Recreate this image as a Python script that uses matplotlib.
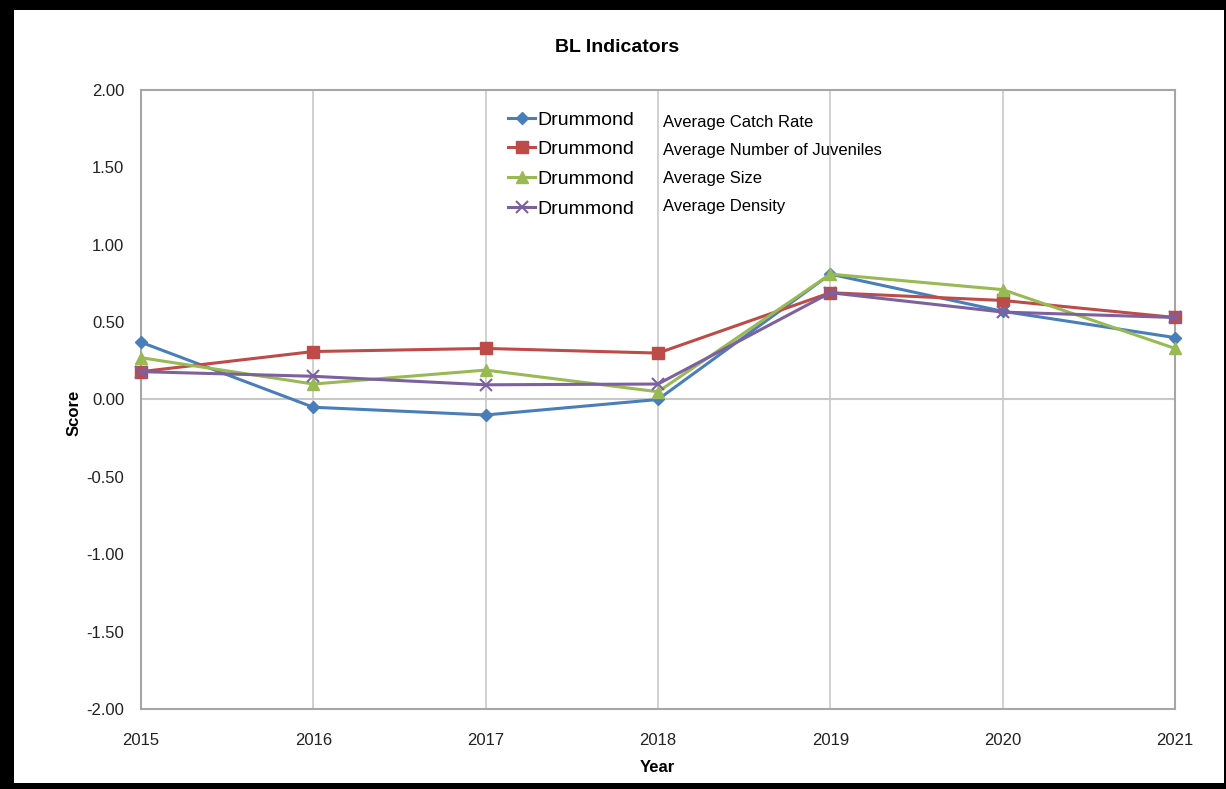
import matplotlib
matplotlib.use("Agg")
import matplotlib.pyplot as plt
from matplotlib.patches import Rectangle

plt.rcParams['font.family'] = ['Liberation Sans Narrow', 'Liberation Sans', 'DejaVu Sans']

years = [2015, 2016, 2017, 2018, 2019, 2020, 2021]
catch_rate = [0.37, -0.05, -0.10, 0.00, 0.81, 0.57, 0.40]
juveniles = [0.18, 0.31, 0.33, 0.30, 0.69, 0.64, 0.53]
avg_size = [0.27, 0.10, 0.19, 0.05, 0.81, 0.71, 0.33]
density = [0.18, 0.15, 0.095, 0.10, 0.69, 0.565, 0.53]
site = "Drummond"
descriptions = ["Average Catch Rate", "Average Number of Juveniles",
                "Average Size", "Average Density"]

W, H = 1226, 789
fig = plt.figure(figsize=(W / 100, H / 100), dpi=100, facecolor="black")

# white page inside the black frame
fig.patches.append(Rectangle((14 / W, 1 - 783 / H), (1224 - 14) / W, (783 - 10) / H,
                             transform=fig.transFigure, facecolor="white",
                             edgecolor="none", zorder=-10))

ax = fig.add_axes([141 / W, 1 - 709 / H, (1175 - 141) / W, (709 - 90) / H])
ax.set_zorder(1)
ax.set_facecolor("white")

style = dict(lw=2.2, clip_on=False, zorder=3)
ax.plot(years, catch_rate, color="#4A7EBB", marker="D", markersize=6, label=site, **style)
ax.plot(years, juveniles, color="#BE4B48", marker="s", markersize=8, label=site, **style)
ax.plot(years, avg_size, color="#98B954", marker="^", markersize=8, label=site, **style)
ax.plot(years, density, color="#7D60A0", marker="x", markersize=8, mew=1.5, label=site, **style)

ax.set_xlim(2015, 2021)
ax.set_ylim(-2, 2)
ax.set_xticks(years)
ax.set_yticks([-2, -1.5, -1, -0.5, 0, 0.5, 1, 1.5, 2])
ax.set_yticklabels([f"{v:.2f}" for v in ax.get_yticks()])
ax.tick_params(length=0, labelsize=12, colors="#222222")
ax.tick_params(axis="x", pad=17)
ax.tick_params(axis="y", pad=12)

ax.grid(axis="x", color="#C8C8C8", lw=1.2)
ax.axhline(0, color="#C8C8C8", lw=1.5, zorder=0.5)
ax.set_axisbelow(True)
for s in ax.spines.values():
    s.set_color("#A6A6A6")
    s.set_linewidth(1.5)

fig.text(617 / W, 1 - 47 / H, "BL Indicators", ha="center", va="center",
         fontsize=14, fontweight="bold")
fig.text(657 / W, 1 - 768 / H, "Year", ha="center", va="center",
         fontsize=12, fontweight="bold")
fig.text(74 / W, 1 - 413 / H, "Score", ha="center", va="center",
         fontsize=12, fontweight="bold", rotation=90)

leg = ax.legend(loc="upper left", bbox_to_anchor=(508 / W, 1 - 111 / H),
                bbox_transform=fig.transFigure, frameon=False, fontsize=14,
                handlelength=1.4, handletextpad=0.1, labelspacing=0.62,
                borderaxespad=0, borderpad=0)

for i, d in enumerate(descriptions):
    fig.text(663 / W, 1 - (122 + i * 28) / H, d, ha="left", va="center", fontsize=12)

fig.savefig("out.png", dpi=100, facecolor=fig.get_facecolor())
